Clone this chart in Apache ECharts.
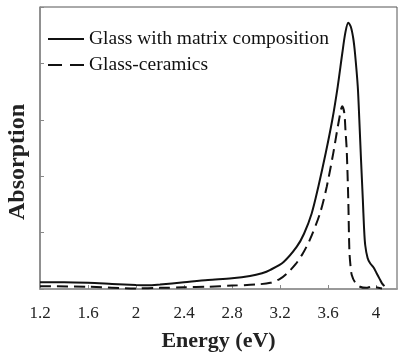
<!DOCTYPE html>
<html>
<head>
<meta charset="utf-8">
<script src="https://cdn.jsdelivr.net/npm/echarts@6/dist/echarts.min.js"></script>
<style>
  html, body { margin: 0; padding: 0; background: #fff; }
  #chart { width: 400px; height: 353px; }
</style>
</head>
<body>
<div id="chart"></div>
<script>
// glass (solid line)
var glassEnergy = [1.20, 1.40, 1.60, 1.80, 2.00, 2.10, 2.20, 2.40, 2.60, 2.80, 2.95, 3.05, 3.12, 3.23, 3.34, 3.40, 3.464, 3.519, 3.581, 3.636, 3.681, 3.719, 3.745, 3.769, 3.79, 3.81, 3.825, 3.848, 3.861, 3.875, 3.89, 3.90, 3.91, 3.93, 3.95, 3.98, 4.005, 4.03, 4.05, 4.07];
var glassAbs = [0.12, 0.12, 0.11, 0.09, 0.07, 0.065, 0.08, 0.12, 0.16, 0.19, 0.23, 0.28, 0.34, 0.48, 0.75, 0.98, 1.34, 1.81, 2.41, 3.00, 3.59, 4.18, 4.55, 4.72, 4.65, 4.45, 4.18, 3.59, 3.00, 2.30, 1.60, 1.10, 0.78, 0.55, 0.46, 0.38, 0.28, 0.18, 0.10, 0.05];
// glass-ceramics (dashed line)
var gcEnergy = [1.20, 1.60, 2.00, 2.20, 2.40, 2.60, 2.80, 3.00, 3.12, 3.20, 3.26, 3.33, 3.39, 3.45, 3.533, 3.589, 3.644, 3.692, 3.719, 3.736, 3.746, 3.756, 3.769, 3.778, 3.788, 3.798, 3.825, 3.867, 3.92, 3.96, 4.00, 4.05];
var gcAbs = [0.05, 0.04, 0.01, 0.02, 0.03, 0.04, 0.06, 0.08, 0.11, 0.18, 0.28, 0.44, 0.63, 0.88, 1.34, 1.81, 2.41, 3.00, 3.24, 3.12, 2.80, 2.46, 1.58, 0.69, 0.40, 0.25, 0.12, 0.04, 0.02, 0.04, 0.03, 0.01];

var seriesNames = ['Glass with matrix composition', 'Glass-ceramics'];
var xTicks = [1.2, 1.6, 2, 2.4, 2.8, 3.2, 3.6, 4];

function pairs(xs, ys) {
  return xs.map(function (x, i) { return [x, ys[i]]; });
}

var serif = '"Liberation Serif", "DejaVu Serif", serif';
var chart = echarts.init(document.getElementById('chart'), null, { renderer: 'canvas' });

chart.setOption({
  animation: false,
  backgroundColor: '#fff',
  grid: {
    left: 40, right: 3, top: 7, bottom: 64,
    outerBoundsMode: 'none',
    containLabel: false,
    show: true, borderColor: '#555', borderWidth: 1
  },
  legend: {
    orient: 'vertical',
    left: 47, top: 29, padding: 0,
    itemWidth: 36, itemHeight: 14, itemGap: 6, itemTextGap: 5,
    textStyle: { fontFamily: serif, fontSize: 19.5, lineHeight: 20, color: '#111' },
    itemStyle: { opacity: 0 },
    data: [
      { name: seriesNames[0] },
      { name: seriesNames[1], lineStyle: { type: [14, 8] } }
    ]
  },
  graphic: [{
    type: 'text',
    left: 6, top: 104,
    rotation: Math.PI / 2,
    style: {
      text: 'Absorption',
      font: 'bold 24px ' + serif,
      fill: '#222'
    }
  }],
  xAxis: {
    type: 'value',
    min: 1.2, max: 4.175, interval: 0.4,
    name: 'Energy (eV)',
    nameLocation: 'middle', nameGap: 41,
    nameTextStyle: { fontFamily: serif, fontSize: 22, fontWeight: 'bold', color: '#222' },
    axisLine: { show: true, lineStyle: { color: '#999', width: 2 } },
    axisTick: { show: true, inside: true, length: 4, lineStyle: { color: '#888' } },
    axisLabel: {
      showMaxLabel: false, margin: 16,
      fontFamily: serif, fontSize: 17, color: '#222',
      formatter: function (v) { return xTicks.indexOf(+v.toFixed(1)) >= 0 ? String(+v.toFixed(1)) : ''; }
    },
    splitLine: { show: false }
  },
  yAxis: {
    type: 'value',
    min: 0, max: 5, interval: 1,
    axisLine: { show: true, lineStyle: { color: '#888', width: 1.5 } },
    axisTick: { show: true, inside: true, length: 4, lineStyle: { color: '#888' } },
    axisLabel: { show: false },
    splitLine: { show: false }
  },
  series: [
    {
      name: seriesNames[0],
      type: 'line',
      data: pairs(glassEnergy, glassAbs),
      smooth: 0.3,
      symbol: 'none',
      lineStyle: { color: '#111', width: 2, type: 'solid' },
      itemStyle: { color: '#111' }
    },
    {
      name: seriesNames[1],
      type: 'line',
      data: pairs(gcEnergy, gcAbs),
      smooth: 0.3,
      symbol: 'none',
      lineStyle: { color: '#111', width: 2, type: [11, 6] },
      itemStyle: { color: '#111' }
    }
  ]
});
</script>
</body>
</html>
